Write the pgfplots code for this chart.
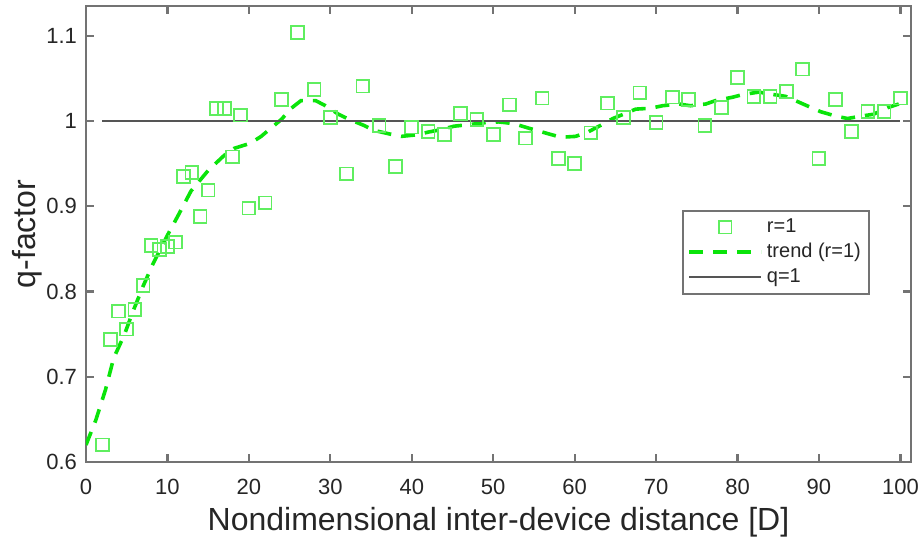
\documentclass[border=0pt]{standalone}
\usepackage{pgfplots}
\pgfplotsset{compat=1.18}
\usepackage{fontspec}
\setmainfont{Liberation Sans}
\definecolor{mk}{RGB}{95,238,95}
\definecolor{tr}{RGB}{10,228,10}
\definecolor{ax}{RGB}{115,115,115}
\definecolor{ql}{RGB}{85,85,85}
\definecolor{tx}{RGB}{38,38,38}
\begin{document}
\begin{tikzpicture}
\begin{axis}[
  scale only axis,
  width=412.5pt, height=228pt,
  xmin=0, xmax=101.3, ymin=0.6, ymax=1.135,
  xtick={0,10,...,100},
  ytick={0.6,0.7,0.8,0.9,1,1.1},
  yticklabels={0.6,0.7,0.8,0.9,1,1.1},
  tick align=inside,
  major tick length=4pt,
  axis line style={ax, line width=1.1pt},
  every tick/.style={ax, line width=1.1pt},
  /pgf/number format/assume math mode=true,
  tick label style={font=\fontsize{11}{13}\selectfont, text=tx},
  xticklabel style={yshift=-5pt},
  yticklabel style={xshift=-1pt},
  xlabel={Nondimensional inter-device distance [D]},
  ylabel={q-factor},
  label style={font=\fontsize{16}{19}\selectfont, text=tx},
  xlabel style={yshift=0.5pt},
  ylabel style={yshift=-5pt},
  legend style={at={(0.950,0.553)}, anchor=north east, draw=ax, line width=0.9pt,
    font=\fontsize{10}{12}\selectfont, text=tx, inner sep=2pt, row sep=0pt,
    cells={anchor=west}},
  legend image code/.code={\draw[mark repeat=2,mark phase=2,#1] plot coordinates {(0pt,0pt) (18pt,0pt) (36pt,0pt)};},
]
\addplot[only marks, mark=square, mark size=3.2pt, mk, mark options={line width=0.9pt, solid}] coordinates {
(2,0.620) (3,0.744) (4,0.777) (5,0.756) (6,0.779) (7,0.807) (8,0.854) (9,0.849)
(10,0.853) (11,0.858) (12,0.935) (13,0.940) (14,0.888) (15,0.919) (16,1.015)
(17,1.015) (18,0.958) (19,1.007) (20,0.898) (22,0.904) (24,1.025) (26,1.104)
(28,1.037) (30,1.004) (32,0.938) (34,1.041) (36,0.995) (38,0.947) (40,0.993)
(42,0.988) (44,0.984) (46,1.009) (48,1.002) (50,0.984) (52,1.019) (54,0.980)
(56,1.027) (58,0.956) (60,0.950) (62,0.986) (64,1.021) (66,1.004) (68,1.033)
(70,0.998) (72,1.028) (74,1.025) (76,0.995) (78,1.016) (80,1.051) (82,1.029)
(84,1.029) (86,1.035) (88,1.061) (90,0.956) (92,1.025) (94,0.988) (96,1.011)
(98,1.011) (100,1.027)
};
\addlegendentry{r=1}
\addplot[tr, line width=1.8pt, dash pattern=on 7pt off 5pt, no markers] coordinates {
(0,0.620) (1.2,0.649) (2.4,0.685) (3.4,0.722) (4.7,0.749) (5.7,0.775) (7,0.806)
(8.2,0.832) (10,0.866) (11.3,0.889) (12.9,0.918) (15,0.942) (17,0.960) (18.2,0.968)
(20.2,0.974) (21.5,0.982) (23,0.994) (24,1.002) (25.2,1.015) (26.4,1.024) (28.2,1.024)
(29.4,1.018) (31,1.008) (32.3,1.002) (34.1,0.995) (35.4,0.989) (37.2,0.985) (38.7,0.982)
(40.7,0.984) (42,0.987) (43.6,0.990) (45.2,0.994) (47.2,0.996) (48.8,0.998) (50.7,0.999)
(52.5,0.997) (54.6,0.991) (56.8,0.985) (58.3,0.981) (60.1,0.982) (61.6,0.987) (63.2,0.995)
(64.7,1.003) (66.5,1.010) (67.5,1.014) (69.3,1.015) (70.8,1.018) (72.8,1.020) (74.2,1.018)
(76.1,1.020) (77.3,1.024) (79.4,1.028) (80.6,1.031) (82.6,1.034) (83.8,1.032) (85.9,1.029)
(87.1,1.024) (89,1.016) (90.2,1.011) (92,1.006) (93.5,1.003) (95.3,1.006) (96.7,1.008)
(98.5,1.016) (99.8,1.020)
};
\addlegendentry{trend (r=1)}
\addplot[ql, line width=1.1pt, no markers] coordinates {(2,1) (100,1)};
\addlegendentry{q=1}
\end{axis}
\pgfresetboundingbox
\useasboundingbox (-43pt,-39pt) rectangle (418pt,231pt);
\end{tikzpicture}
\end{document}
